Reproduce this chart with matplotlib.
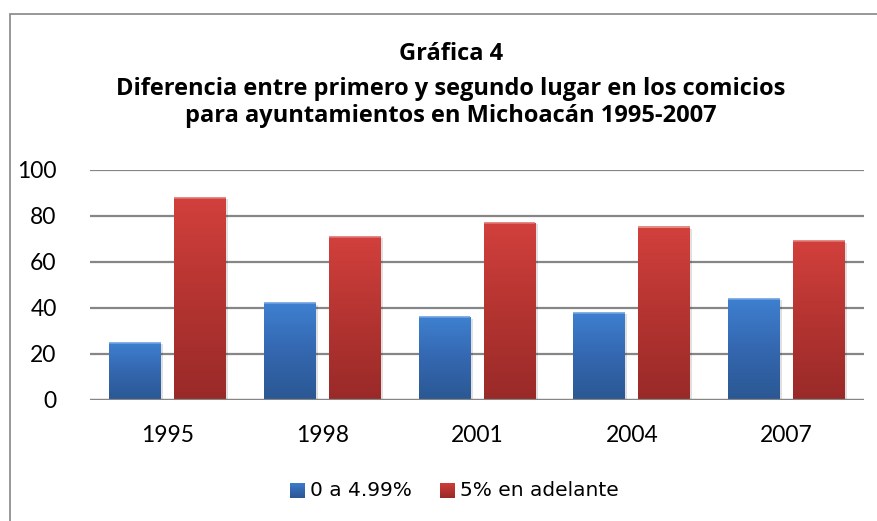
import numpy as np
import matplotlib
matplotlib.use("Agg")
import matplotlib.pyplot as plt
from matplotlib.colors import LinearSegmentedColormap
from matplotlib.patches import Rectangle

# ---- data ----
years = ["1995", "1998", "2001", "2004", "2007"]
serie_baja = [25, 42, 36, 38, 44]      # 0 a 4.99%
serie_alta = [88, 71, 77, 75, 69]      # 5% en adelante
series_names = ["0 a 4.99%", "5% en adelante"]
title_lines = ["Gráfica 4",
               "Diferencia entre primero y segundo lugar en los comicios",
               "para ayuntamientos en Michoacán 1995-2007"]
yticks = [0, 20, 40, 60, 80, 100]

plt.rcParams['font.family'] = ['Lato', 'DejaVu Sans']

W, H = 878, 521
fig = plt.figure(figsize=(W / 100, H / 100), dpi=100)
fig.patch.set_facecolor("white")

# outer chart border
fig.patches.append(Rectangle((10 / W, -0.05), 1.2, (H - 14) / H + 0.05,
                             transform=fig.transFigure, fill=False,
                             edgecolor="#868686", linewidth=1.2))

ax = fig.add_axes([90 / W, 1 - 400 / H, (864 - 90) / W, (400 - 170) / H])
ax.set_xlim(-0.5, len(years) - 0.5)
ax.set_ylim(0, 100)
for s in ax.spines.values():
    s.set_visible(False)
ax.set_yticks(yticks)
ax.set_yticklabels([str(v) for v in yticks], fontsize=16.5)
ax.set_xticks(np.arange(len(years)))
ax.set_xticklabels(years, fontsize=16.5)
ax.tick_params(axis='y', length=0, pad=24)
ax.tick_params(axis='x', length=0, pad=18)
ax.yaxis.grid(True, color="#868686", linewidth=1.6)
ax.set_axisbelow(True)

blue_cmap = LinearSegmentedColormap.from_list("b", ["#2b5893", "#3467b0", "#3e80d0"])
red_cmap = LinearSegmentedColormap.from_list("r", ["#992a28", "#b43431", "#d2403c"])

x = np.arange(len(years))
bw = 0.335
off = 0.21
grad = np.linspace(0, 1, 256).reshape(-1, 1)

def gradient_bars(xpos, vals, cmap, edge):
    bars = ax.bar(xpos, vals, width=bw, color="none", edgecolor="none", zorder=3)
    for b in bars:
        x0, y0 = b.get_x(), b.get_y()
        w, h = b.get_width(), b.get_height()
        # soft shadow
        ax.add_patch(Rectangle((x0 + 0.006, y0), w + 0.008, h - 0.6,
                               facecolor="#000000", alpha=0.12, edgecolor="none", zorder=2))
        im = ax.imshow(grad, cmap=cmap, origin="lower", aspect="auto",
                       extent=[x0, x0 + w, y0, y0 + h], zorder=3)
        im.set_clip_path(b)
        ax.plot([x0, x0 + w], [h, h], color=edge, linewidth=1.2, zorder=4,
                solid_capstyle='butt')
    return bars

gradient_bars(x - off, serie_baja, blue_cmap, "#6fa2e0")
gradient_bars(x + off, serie_alta, red_cmap, "#e07470")
ax.set_xlim(-0.5, len(years) - 0.5)
ax.set_ylim(0, 100)
# baseline
ax.axhline(0, color="#868686", linewidth=1.6, zorder=5)

# titles (fit the long line to the reference width)
renderer = fig.canvas.get_renderer()
probe = fig.text(0, 0, title_lines[1], fontsize=17, fontweight="bold",
                 family=['Open Sans', 'DejaVu Sans'])
wpx = probe.get_window_extent(renderer).width
probe.remove()
tsize = 17 * 670 / wpx

baselines = [60, 95, 122]
for txt, bl in zip(title_lines, baselines):
    fig.text(451 / W, 1 - bl / H, txt, ha="center", va="baseline",
             fontsize=tsize, fontweight="bold", color="black",
             family=['Open Sans', 'DejaVu Sans'])

# legend
leg_y = 1 - 490 / H
items = [(290, 310, blue_cmap, series_names[0]), (440, 460, red_cmap, series_names[1])]
for sx, tx, cmap, name in items:
    axl = fig.add_axes([sx / W, leg_y - 7.5 / H, 15 / W, 15 / H])
    axl.imshow(grad, cmap=cmap, origin="lower", aspect="auto", extent=[0, 1, 0, 1])
    axl.set_axis_off()
    fig.text(tx / W, leg_y, name, ha="left", va="center", fontsize=14.5,
             color="black", family=['DejaVu Sans'])

fig.savefig("out.png", dpi=100, facecolor="white")
